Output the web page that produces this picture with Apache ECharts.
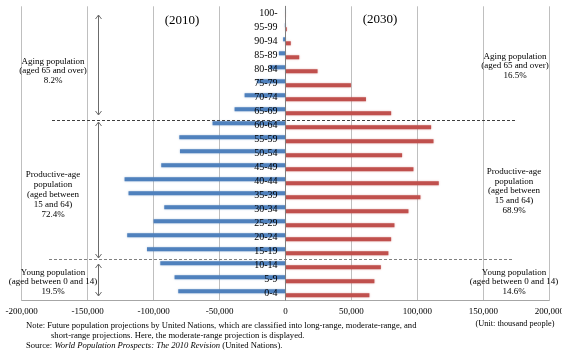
<!DOCTYPE html>
<html>
<head>
<meta charset="utf-8">
<script src="https://cdn.jsdelivr.net/npm/echarts@6/dist/echarts.min.js"></script>
<style>
  html, body { margin: 0; padding: 0; background: #fff; }
  #chart { width: 562px; height: 352px; }
</style>
</head>
<body>
<div id="chart"></div>
<script>
  // age groups, bottom to top
  var ages = ['0-4', '5-9', '10-14', '15-19', '20-24', '25-29', '30-34', '35-39', '40-44', '45-49',
    '50-54', '55-59', '60-64', '65-69', '70-74', '75-79', '80-84', '85-89', '90-94', '95-99', '100-']
  // thousand people, 2010 drawn to the left (negative)
  var pop2010 = [-81300, -84100, -94900, -105000, -120000, -100000, -91900, -119000, -122000, -94200,
    -80000, -80500, -55300, -38600, -31000, -21700, -12100, -5000, -1800, -500, -300]
  var pop2030 = [63600, 67400, 72300, 78000, 80100, 82600, 93200, 102300, 116200, 97000,
    88400, 112200, 110400, 80100, 61000, 49600, 24300, 10400, 4000, 1000, 300]
  var xTicks = [-200000, 200000, 50000]

  var serif = '"Liberation Serif", "Times New Roman", serif'

  function txt (x, y, text, size, extra) {
    var st = {
      text: text, x: x, y: y,
      textAlign: 'center', align: 'center',
      textVerticalAlign: 'middle', verticalAlign: 'middle',
      fontSize: size, fontFamily: serif, fill: '#000', lineHeight: size + 1
    }
    for (var k in (extra || {})) st[k] = extra[k]
    return {type: 'text', z: 20, style: st}
  }

  // vertical double arrow
  function arrow (x, y1, y2) {
    var ls = {stroke: '#6b6b6b', lineWidth: 1, fill: null}
    return [
      {type: 'polyline', z: 20, shape: {points: [[x, y1], [x, y2]]}, style: ls},
      {type: 'polyline', z: 20, shape: {points: [[x - 3, y1 + 4], [x, y1], [x + 3, y1 + 4]]}, style: ls},
      {type: 'polyline', z: 20, shape: {points: [[x - 3, y2 - 4], [x, y2], [x + 3, y2 - 4]]}, style: ls}
    ]
  }

  function dashed (x1, x2, y, color) {
    return {type: 'polyline', z: 20, shape: {points: [[x1, y], [x2, y]]},
      style: {stroke: color, lineWidth: 1, lineDash: [3, 2], fill: null}}
  }

  var gridLeft = 21.7, gridRight = 12.7
  var plotW = 562 - gridLeft - gridRight
  var noteSize = 8.6

  var graphics = [
    txt(182, 21, '(2010)', 13),
    txt(380, 20, '(2030)', 13),
    txt(53, 71, 'Aging population\n(aged 65 and over)\n8.2%', 9, {lineHeight: 9.5}),
    txt(53, 195, 'Productive-age\npopulation\n(aged between\n15 and 64)\n72.4%', 9, {lineHeight: 10}),
    txt(53, 282, 'Young population\n(aged between 0 and 14)\n19.5%', 9, {lineHeight: 9.5}),
    txt(515, 66, 'Aging population\n(aged 65 and over)\n16.5%', 9, {lineHeight: 9.5}),
    txt(514, 191, 'Productive-age\npopulation\n(aged between\n15 and 64)\n68.9%', 9, {lineHeight: 9.8}),
    txt(514, 282, 'Young population\n(aged between 0 and 14)\n14.6%', 9, {lineHeight: 9.5}),
    dashed(52, 515, 120.5, '#404040'),
    dashed(49, 513, 259.5, '#808080'),
    txt(515, 324, '(Unit: thousand people)', 8.3),
    txt(26, 326, 'Note: Future population projections by United Nations, which are classified into long-range, moderate-range, and', noteSize,
      {textAlign: 'left', align: 'left'}),
    txt(51, 336, 'short-range projections. Here, the moderate-range projection is displayed.', noteSize,
      {textAlign: 'left', align: 'left'}),
    txt(26, 346, '{n|Source: }{i|World Population Prospects: The 2010 Revision}{n| (United Nations).}', noteSize, {
      textAlign: 'left', align: 'left',
      rich: {
        n: {fontSize: noteSize, fontFamily: serif, fill: '#000'},
        i: {fontSize: noteSize, fontFamily: serif, fontStyle: 'italic', fill: '#000'}
      }
    })
  ].concat(arrow(98.5, 15, 115), arrow(98.5, 122, 258), arrow(98.5, 264, 296))

  var chart = echarts.init(document.getElementById('chart'))
  chart.setOption({
    animation: false,
    grid: {left: gridLeft, right: gridRight, top: 6.3, bottom: 51.7, containLabel: false, outerBoundsMode: 'none'},
    xAxis: {
      type: 'value',
      min: xTicks[0],
      max: xTicks[1],
      interval: xTicks[2],
      axisLine: {show: true, onZero: false, lineStyle: {color: '#a6a6a6'}},
      axisTick: {show: false},
      splitLine: {lineStyle: {color: '#bfbfbf'}},
      axisLabel: {
        fontFamily: serif, fontSize: 9, color: '#000', margin: 7,
        formatter: function (v) { return v.toLocaleString('en-US') }
      }
    },
    yAxis: {
      type: 'category',
      data: ages,
      z: 10,
      position: 'left',
      offset: -plotW / 2,
      axisLine: {onZero: false, lineStyle: {color: '#7f7f7f'}},
      axisTick: {show: false},
      axisLabel: {fontFamily: serif, fontSize: 10, color: '#000', margin: 8, interval: 0}
    },
    series: [
      {
        name: '2010',
        type: 'bar',
        data: pop2010,
        barWidth: 4,
        barGap: '0%',
        itemStyle: {color: '#4f81bd', shadowColor: 'rgba(79,129,189,0.45)', shadowBlur: 2}
      },
      {
        name: '2030',
        type: 'bar',
        data: pop2030,
        barWidth: 4,
        itemStyle: {color: '#c0504d', shadowColor: 'rgba(192,80,77,0.45)', shadowBlur: 2}
      }
    ],
    graphic: graphics
  })
</script>
</body>
</html>
